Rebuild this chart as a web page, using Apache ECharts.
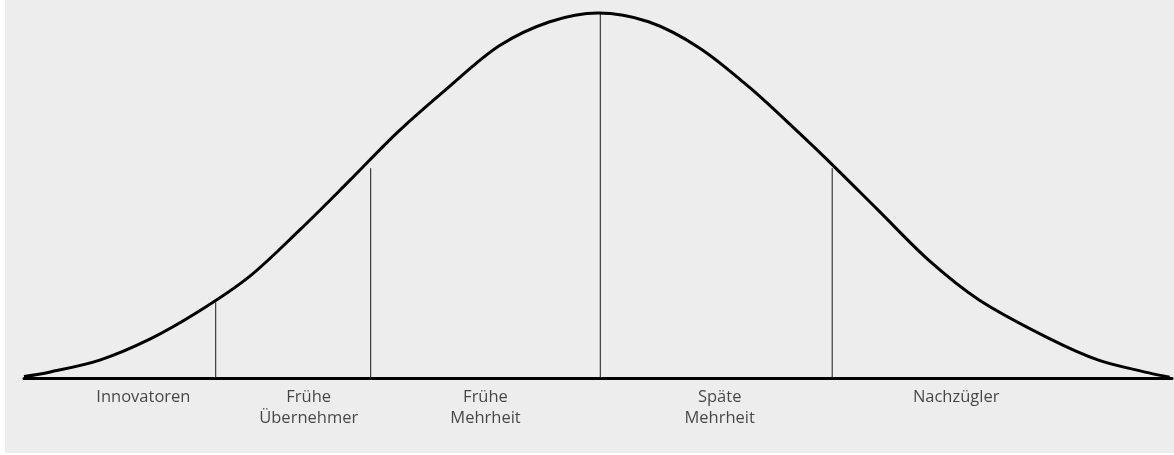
<!DOCTYPE html>
<html>
<head>
<meta charset="utf-8">
<script src="https://cdn.jsdelivr.net/npm/echarts@6/dist/echarts.min.js"></script>
<style>
  html, body { margin: 0; padding: 0; background: #ffffff; }
  #chart { position: absolute; left: 5px; top: 0; width: 1169px; height: 453px; }
</style>
</head>
<body>
<div id="chart"></div>
<script>
// bell curve (x in sd units, y in % of peak)
var curveX = [-2.5, -2.39, -2.17, -1.95, -1.74, -1.52, -1.3, -1.08, -0.87, -0.65, -0.43, -0.21, 0, 0.22, 0.44, 0.66, 0.87, 1.0, 1.22, 1.44, 1.66, 1.96, 2.18, 2.4, 2.49]
var curveY = [0.4, 1.6, 4.9, 10.7, 18.2, 27.7, 40.5, 54.2, 67.5, 79.7, 91, 97.6, 100, 97.6, 90.5, 79.6, 67.5, 59.7, 46, 32.3, 21.4, 11, 4.9, 1.4, 0.2]

// segment boundaries (vertical lines)
var boundaryX = [-1.665, -0.99, 0.01, 1.02]
var boundaryTop = [20.7, 57.5, 100, 57.5]

// group labels
var groupNames = ['Innovatoren', 'Frühe\nÜbernehmer', 'Frühe\nMehrheit', 'Späte\nMehrheit', 'Nachzügler']
var groupX = [-1.98, -1.26, -0.49, 0.53, 1.56]

var curveData = []
for (var i = 0; i < curveX.length; i++) {
  curveData.push([curveX[i], curveY[i]])
}

var series = [
  {
    name: 'curve',
    type: 'line',
    data: curveData,
    smooth: 0.33,
    symbol: 'none',
    clip: false,
    z: 5,
    lineStyle: { color: '#000', width: 3 }
  }
]

for (var j = 0; j < boundaryX.length; j++) {
  series.push({
    type: 'line',
    data: [[boundaryX[j], 0], [boundaryX[j], boundaryTop[j]]],
    symbol: 'none',
    z: 3,
    lineStyle: { color: '#1a1a1a', width: 1 }
  })
}

var labelData = []
for (var k = 0; k < groupNames.length; k++) {
  labelData.push({ value: [groupX[k], 0], name: groupNames[k] })
}
series.push({
  type: 'scatter',
  data: labelData,
  symbolSize: 0,
  z: 6,
  label: {
    show: true,
    position: 'bottom',
    distance: 9,
    formatter: function (p) { return p.name },
    fontFamily: 'Open Sans',
    fontSize: 16.5,
    lineHeight: 21,
    color: '#1a1a1a'
  }
})

var option = {
  backgroundColor: '#ededed',
  animation: false,
  grid: { left: 19, right: 2, top: 13, bottom: 75 },
  xAxis: {
    type: 'value',
    min: -2.5,
    max: 2.5,
    axisLine: { show: true, onZero: true, lineStyle: { color: '#000', width: 3 } },
    axisTick: { show: false },
    axisLabel: { show: false },
    splitLine: { show: false }
  },
  yAxis: {
    type: 'value',
    min: 0,
    max: 100,
    show: false
  },
  series: series
}

var myChart = echarts.init(document.getElementById('chart'))
myChart.setOption(option)
</script>
</body>
</html>
